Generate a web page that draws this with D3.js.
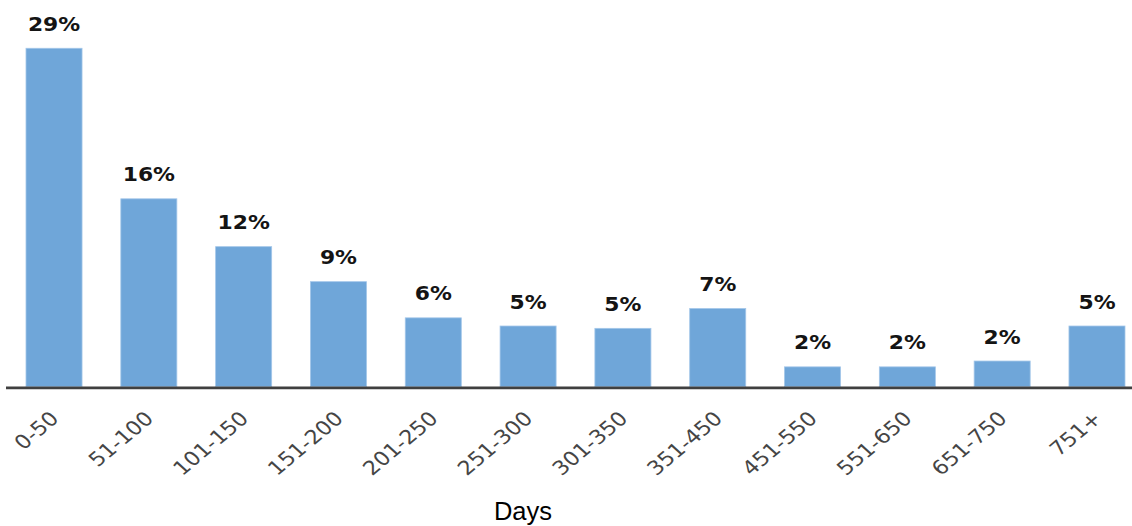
<!DOCTYPE html>
<html>
<head>
<meta charset="utf-8">
<script src="https://cdn.jsdelivr.net/npm/d3@7"></script>
<style>
  html, body { margin: 0; padding: 0; background: #ffffff; }
  svg { display: block; }
</style>
</head>
<body>
<svg id="chart" width="1132" height="526"></svg>
<script>
// Share of cases by duration bucket (days)
const categories = ["0-50", "51-100", "101-150", "151-200", "201-250", "251-300",
                    "301-350", "351-450", "451-550", "551-650", "651-750", "751+"];
const shares = [29.0, 16.1, 12.0, 9.0, 5.9, 5.2, 5.0, 6.7, 1.7, 1.7, 2.2, 5.2];
const axisTitle = "Days";

const svg = d3.select("#chart");
const baseY = 386.7;
const stretch = 1.15;

const x = d3.scaleBand()
  .domain(categories)
  .range([6, 1145])
  .paddingInner(0.409)
  .paddingOuter(0.211);

const y = d3.scaleLinear()
  .domain([0, 30])
  .range([baseY, baseY - 30 * 11.67]);

const data = categories.map((c, i) => ({ cat: c, value: shares[i] }));

// bars
svg.append("g")
  .selectAll("rect")
  .data(data)
  .join("rect")
  .attr("x", d => x(d.cat))
  .attr("y", d => y(d.value))
  .attr("width", x.bandwidth())
  .attr("height", d => y(0) - y(d.value))
  .attr("fill", "#6fa6d9")
  .attr("stroke", "#a3c6e9")
  .attr("stroke-width", 0.8);

// value labels above bars
svg.append("g")
  .selectAll("text")
  .data(data)
  .join("text")
  .attr("transform", d => `translate(${x(d.cat) + x.bandwidth() / 2},${y(d.value) - 17.5}) scale(${stretch},1)`)
  .attr("text-anchor", "middle")
  .attr("font-family", "DejaVu Sans, Verdana, sans-serif")
  .attr("font-weight", "bold")
  .attr("font-size", 19)
  .attr("fill", "#141414")
  .text(d => Math.round(d.value) + "%");

// category axis
const xAxis = d3.axisBottom(x).tickSize(0).tickPadding(0);
const axisG = svg.append("g")
  .attr("transform", `translate(0,${baseY + 1.2})`)
  .call(xAxis);

axisG.select(".domain")
  .attr("d", "M6,0H1132")
  .attr("stroke", "#404040")
  .attr("stroke-width", 2.6);

axisG.selectAll(".tick text")
  .attr("transform", `translate(6,32) scale(${stretch},1) rotate(-44)`)
  .attr("y", 0)
  .attr("dy", 0)
  .attr("text-anchor", "end")
  .attr("font-family", "DejaVu Sans, Verdana, sans-serif")
  .attr("font-size", 19.5)
  .attr("fill", "#454545");

// axis title
svg.append("text")
  .attr("x", 523)
  .attr("y", 519.5)
  .attr("text-anchor", "middle")
  .attr("font-family", "Liberation Sans, Arial, sans-serif")
  .attr("font-size", 25.5)
  .attr("fill", "#000000")
  .text(axisTitle);
</script>
</body>
</html>
